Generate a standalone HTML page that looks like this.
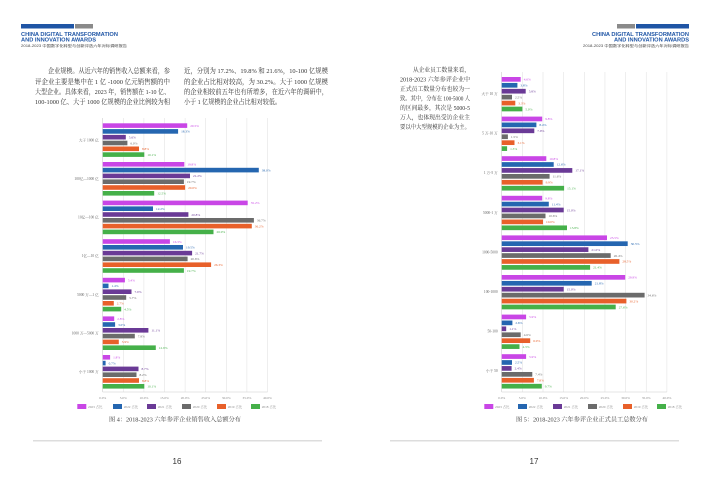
<!DOCTYPE html>
<html><head><meta charset="utf-8"><style>
html,body{margin:0;padding:0;background:#fff;}
svg{display:block}
text{font-family:"Liberation Serif","Noto Serif CJK SC",serif;}
.s{font-family:"Liberation Sans","Noto Sans CJK SC",sans-serif;}
.p{font-size:6.6px;fill:#333;}
.q{font-size:6px;fill:#333;}
.c{font-size:3.6px;fill:#666;}
.v{font-size:3.4px;}
.t{font-size:3.4px;fill:#888;}
.a{fill:#c946e6}.b{fill:#2566b0}.d{fill:#6a3a96}.e{fill:#6b6b6b}.f{fill:#e8602a}.g{fill:#45b049}
</style></head><body>
<svg width="710" height="481" viewBox="0 0 710 481" xmlns="http://www.w3.org/2000/svg">
<rect width="710" height="481" fill="#fff"/>
<!-- headers -->
<rect x="21" y="24" width="53" height="4.5" fill="#1f55a5"/><rect x="75" y="24" width="18" height="4.5" fill="#8a8a8a"/>
<text x="21" y="36" class="s" font-size="5.6" font-weight="bold" fill="#1f55a5" textLength="97" lengthAdjust="spacingAndGlyphs">CHINA DIGITAL TRANSFORMATION</text>
<text x="21" y="41.5" class="s" font-size="5.6" font-weight="bold" fill="#1f55a5" textLength="75" lengthAdjust="spacingAndGlyphs">AND INNOVATION AWARDS</text>
<text x="21" y="47" class="s" font-size="3.6" fill="#444" textLength="106" lengthAdjust="spacingAndGlyphs">2018-2023 中国数字化转型与创新评选六年对标调研报告</text>
<rect x="617" y="24" width="18" height="4.5" fill="#8a8a8a"/><rect x="636" y="24" width="53" height="4.5" fill="#1f55a5"/>
<text x="592" y="36" class="s" font-size="5.6" font-weight="bold" fill="#1f55a5" textLength="97" lengthAdjust="spacingAndGlyphs">CHINA DIGITAL TRANSFORMATION</text>
<text x="614" y="41.5" class="s" font-size="5.6" font-weight="bold" fill="#1f55a5" textLength="75" lengthAdjust="spacingAndGlyphs">AND INNOVATION AWARDS</text>
<text x="583" y="47" class="s" font-size="3.6" fill="#444" textLength="106" lengthAdjust="spacingAndGlyphs">2018-2023 中国数字化转型与创新评选六年对标调研报告</text>
<!-- left text -->
<text class="p" x="48" y="73" textLength="122" lengthAdjust="spacingAndGlyphs">企业规模。从近六年的销售收入总额来看，参</text>
<text class="p" x="35" y="84" textLength="135" lengthAdjust="spacingAndGlyphs">评企业主要是集中在 1 亿 -1000 亿元销售额的中</text>
<text class="p" x="35" y="94" textLength="135" lengthAdjust="spacingAndGlyphs">大型企业。具体来看，2023 年，销售额在 1-10 亿、</text>
<text class="p" x="35" y="104" textLength="135" lengthAdjust="spacingAndGlyphs">100-1000 亿、大于 1000 亿规模的企业比例较为相</text>
<text class="p" x="184" y="73" textLength="144" lengthAdjust="spacingAndGlyphs">近，分别为 17.2%、19.8% 和 21.6%，10-100 亿规模</text>
<text class="p" x="184" y="84" textLength="144" lengthAdjust="spacingAndGlyphs">的企业占比相对较高，为 30.2%。大于 1000 亿规模</text>
<text class="p" x="184" y="94" textLength="144" lengthAdjust="spacingAndGlyphs">的企业相较前五年也有所增多，在近六年的调研中，</text>
<text class="p" x="184" y="104" textLength="97" lengthAdjust="spacingAndGlyphs">小于 1 亿规模的企业占比相对较低。</text>
<!-- right text -->
<text class="q" x="413" y="72" textLength="57" lengthAdjust="spacingAndGlyphs">从企业员工数量来看，</text>
<text class="q" x="400" y="81.5" textLength="70" lengthAdjust="spacingAndGlyphs">2018-2023 六年参评企业中</text>
<text class="q" x="400" y="91" textLength="70" lengthAdjust="spacingAndGlyphs">正式员工数量分布也较为一</text>
<text class="q" x="400" y="100.5" textLength="70" lengthAdjust="spacingAndGlyphs">致。其中，分布在 100-5000 人</text>
<text class="q" x="400" y="110" textLength="70" lengthAdjust="spacingAndGlyphs">的区间最多，其次是 5000-5</text>
<text class="q" x="400" y="119.5" textLength="70" lengthAdjust="spacingAndGlyphs">万人，也体现出受访企业主</text>
<text class="q" x="400" y="129" textLength="70" lengthAdjust="spacingAndGlyphs">要以中大型规模的企业为主。</text>

<!-- LEFT CHART grid -->
<g stroke="#e3e3e3" stroke-width="0.6">
<line x1="102.7" y1="118" x2="102.7" y2="392" stroke="#ccc"/><line x1="123.3" y1="118" x2="123.3" y2="392"/><line x1="143.9" y1="118" x2="143.9" y2="392"/><line x1="164.5" y1="118" x2="164.5" y2="392"/><line x1="185.1" y1="118" x2="185.1" y2="392"/><line x1="205.7" y1="118" x2="205.7" y2="392"/><line x1="226.3" y1="118" x2="226.3" y2="392"/><line x1="246.9" y1="118" x2="246.9" y2="392"/><line x1="267.5" y1="118" x2="267.5" y2="392"/>
<line x1="102.7" y1="392" x2="267.5" y2="392" stroke="#ccc"/>
</g>
<g class="s">
<text class="t" x="102.7" y="399" text-anchor="middle">0.0%</text><text class="t" x="123.3" y="399" text-anchor="middle">5.0%</text><text class="t" x="143.9" y="399" text-anchor="middle">10.0%</text><text class="t" x="164.5" y="399" text-anchor="middle">15.0%</text><text class="t" x="185.1" y="399" text-anchor="middle">20.0%</text><text class="t" x="205.7" y="399" text-anchor="middle">25.0%</text><text class="t" x="226.3" y="399" text-anchor="middle">30.0%</text><text class="t" x="246.9" y="399" text-anchor="middle">35.0%</text><text class="t" x="267.5" y="399" text-anchor="middle">40.0%</text>
</g>
<!-- left groups -->
<g transform="translate(102.7,123.3)">
<text class="c" x="-4" y="18" text-anchor="end">大于 1000 亿</text>
<rect class="a" y="0" width="84.5" height="4.6"/><text class="v a" x="87.5" y="3.6">20.5%</text>
<rect class="b" y="5.8" width="75.4" height="4.6"/><text class="v b" x="78.4" y="9.4">18.3%</text>
<rect class="d" y="11.6" width="23.1" height="4.6"/><text class="v d" x="26.1" y="15.2">5.6%</text>
<rect class="e" y="17.4" width="24.7" height="4.6"/><text class="v e" x="27.7" y="21">6.0%</text>
<rect class="f" y="23.2" width="36.3" height="4.6"/><text class="v f" x="39.3" y="26.8">8.8%</text>
<rect class="g" y="29" width="41.6" height="4.6"/><text class="v g" x="44.6" y="32.6">10.1%</text>
</g>
<g transform="translate(102.7,162)">
<text class="c" x="-4" y="18" text-anchor="end">100亿—1000 亿</text>
<rect class="a" y="0" width="81.6" height="4.6"/><text class="v a" x="84.6" y="3.6">19.8%</text>
<rect class="b" y="5.8" width="156.1" height="4.6"/><text class="v b" x="159.1" y="9.4">38.0%</text>
<rect class="d" y="11.6" width="87.3" height="4.6"/><text class="v d" x="90.3" y="15.2">21.2%</text>
<rect class="e" y="17.4" width="81.2" height="4.6"/><text class="v e" x="84.2" y="21">19.7%</text>
<rect class="f" y="23.2" width="82.4" height="4.6"/><text class="v f" x="85.4" y="26.8">20.0%</text>
<rect class="g" y="29" width="51.5" height="4.6"/><text class="v g" x="54.5" y="32.6">12.5%</text>
</g>
<g transform="translate(102.7,200.6)">
<text class="c" x="-4" y="18" text-anchor="end">10亿—100 亿</text>
<rect class="a" y="0" width="145" height="4.6"/><text class="v a" x="148" y="3.6">35.2%</text>
<rect class="b" y="5.8" width="50.3" height="4.6"/><text class="v b" x="53.3" y="9.4">12.2%</text>
<rect class="d" y="11.6" width="85.7" height="4.6"/><text class="v d" x="88.7" y="15.2">20.8%</text>
<rect class="e" y="17.4" width="151.2" height="4.6"/><text class="v e" x="154.2" y="21">36.7%</text>
<rect class="f" y="23.2" width="149.1" height="4.6"/><text class="v f" x="152.1" y="26.8">36.2%</text>
<rect class="g" y="29" width="110.8" height="4.6"/><text class="v g" x="113.8" y="32.6">26.9%</text>
</g>
<g transform="translate(102.7,239.2)">
<text class="c" x="-4" y="18" text-anchor="end">1亿—10 亿</text>
<rect class="a" y="0" width="67.2" height="4.6"/><text class="v a" x="70.2" y="3.6">16.3%</text>
<rect class="b" y="5.8" width="80.3" height="4.6"/><text class="v b" x="83.3" y="9.4">19.5%</text>
<rect class="d" y="11.6" width="89.4" height="4.6"/><text class="v d" x="92.4" y="15.2">21.7%</text>
<rect class="e" y="17.4" width="84.9" height="4.6"/><text class="v e" x="87.9" y="21">20.6%</text>
<rect class="f" y="23.2" width="108.4" height="4.6"/><text class="v f" x="111.4" y="26.8">26.3%</text>
<rect class="g" y="29" width="81.2" height="4.6"/><text class="v g" x="84.2" y="32.6">19.7%</text>
</g>
<g transform="translate(102.7,277.8)">
<text class="c" x="-4" y="18" text-anchor="end">5000 万—1 亿</text>
<rect class="a" y="0" width="22.2" height="4.6"/><text class="v a" x="25.2" y="3.6">5.4%</text>
<rect class="b" y="5.8" width="5.8" height="4.6"/><text class="v b" x="8.8" y="9.4">1.4%</text>
<rect class="d" y="11.6" width="28.8" height="4.6"/><text class="v d" x="31.8" y="15.2">7.0%</text>
<rect class="e" y="17.4" width="23.5" height="4.6"/><text class="v e" x="26.5" y="21">5.7%</text>
<rect class="f" y="23.2" width="11.1" height="4.6"/><text class="v f" x="14.1" y="26.8">2.7%</text>
<rect class="g" y="29" width="18.5" height="4.6"/><text class="v g" x="21.5" y="32.6">4.5%</text>
</g>
<g transform="translate(102.7,316.4)">
<text class="c" x="-4" y="18" text-anchor="end">1000 万—5000 万</text>
<rect class="a" y="0" width="11.5" height="4.6"/><text class="v a" x="14.5" y="3.6">2.8%</text>
<rect class="b" y="5.8" width="12.4" height="4.6"/><text class="v b" x="15.4" y="9.4">3.0%</text>
<rect class="d" y="11.6" width="45.7" height="4.6"/><text class="v d" x="48.7" y="15.2">11.1%</text>
<rect class="e" y="17.4" width="32.1" height="4.6"/><text class="v e" x="35.1" y="21">7.8%</text>
<rect class="f" y="23.2" width="16.1" height="4.6"/><text class="v f" x="19.1" y="26.8">3.9%</text>
<rect class="g" y="29" width="53.1" height="4.6"/><text class="v g" x="56.1" y="32.6">12.9%</text>
</g>
<g transform="translate(102.7,355)">
<text class="c" x="-4" y="18" text-anchor="end">小于 1000 万</text>
<rect class="a" y="0" width="7.4" height="4.6"/><text class="v a" x="10.4" y="3.6">1.8%</text>
<rect class="b" y="5.8" width="2.9" height="4.6"/><text class="v b" x="5.9" y="9.4">0.7%</text>
<rect class="d" y="11.6" width="35.8" height="4.6"/><text class="v d" x="38.8" y="15.2">8.7%</text>
<rect class="e" y="17.4" width="33.8" height="4.6"/><text class="v e" x="36.8" y="21">8.2%</text>
<rect class="f" y="23.2" width="36.3" height="4.6"/><text class="v f" x="39.3" y="26.8">8.8%</text>
<rect class="g" y="29" width="41.6" height="4.6"/><text class="v g" x="44.6" y="32.6">10.1%</text>
</g>
<!-- left legend -->
<g class="s">
<rect class="a" x="77.3" y="404" width="9" height="5"/><text class="t" x="88" y="408">2023 占比</text>
<rect class="b" x="113" y="404" width="9" height="5"/><text class="t" x="123.7" y="408">2022 占比</text>
<rect class="d" x="147" y="404" width="9" height="5"/><text class="t" x="157.7" y="408">2021 占比</text>
<rect class="e" x="182" y="404" width="9" height="5"/><text class="t" x="192.7" y="408">2020 占比</text>
<rect class="f" x="217" y="404" width="9" height="5"/><text class="t" x="227.7" y="408">2019 占比</text>
<rect class="g" x="251" y="404" width="9" height="5"/><text class="t" x="261.7" y="408">2018 占比</text>
</g>
<text x="175" y="421.5" text-anchor="middle" font-size="6.2" fill="#444">图 4：2018-2023 六年参评企业销售收入总额分布</text>

<!-- RIGHT CHART grid -->
<g stroke="#e3e3e3" stroke-width="0.6">
<line x1="501.7" y1="72" x2="501.7" y2="392" stroke="#ccc"/><line x1="522.35" y1="72" x2="522.35" y2="392"/><line x1="543" y1="72" x2="543" y2="392"/><line x1="563.65" y1="72" x2="563.65" y2="392"/><line x1="584.3" y1="72" x2="584.3" y2="392"/><line x1="604.95" y1="72" x2="604.95" y2="392"/><line x1="625.6" y1="72" x2="625.6" y2="392"/><line x1="646.25" y1="72" x2="646.25" y2="392"/><line x1="666.9" y1="72" x2="666.9" y2="392"/>
<line x1="501.7" y1="392" x2="666.9" y2="392" stroke="#ccc"/>
</g>
<g class="s">
<text class="t" x="501.7" y="399" text-anchor="middle">0.0%</text><text class="t" x="522.35" y="399" text-anchor="middle">5.0%</text><text class="t" x="543" y="399" text-anchor="middle">10.0%</text><text class="t" x="563.65" y="399" text-anchor="middle">15.0%</text><text class="t" x="584.3" y="399" text-anchor="middle">20.0%</text><text class="t" x="604.95" y="399" text-anchor="middle">25.0%</text><text class="t" x="625.6" y="399" text-anchor="middle">30.0%</text><text class="t" x="646.25" y="399" text-anchor="middle">35.0%</text><text class="t" x="666.9" y="399" text-anchor="middle">40.0%</text>
</g>
<g transform="translate(501.7,77)">
<text class="c" x="-4" y="18" text-anchor="end">大于 10 万</text>
<rect class="a" y="0" width="19" height="4.7"/><text class="v a" x="22" y="3.6">4.6%</text>
<rect class="b" y="5.93" width="15.7" height="4.7"/><text class="v b" x="18.7" y="9.5">3.8%</text>
<rect class="d" y="11.86" width="24" height="4.7"/><text class="v d" x="27" y="15.5">5.8%</text>
<rect class="e" y="17.79" width="10.3" height="4.7"/><text class="v e" x="13.3" y="21.4">2.5%</text>
<rect class="f" y="23.72" width="13.6" height="4.7"/><text class="v f" x="16.6" y="27.3">3.3%</text>
<rect class="g" y="29.65" width="20.7" height="4.7"/><text class="v g" x="23.7" y="33.3">5.0%</text>
</g>
<g transform="translate(501.7,116.6)">
<text class="c" x="-4" y="18" text-anchor="end">5 万-10 万</text>
<rect class="a" y="0" width="40.5" height="4.7"/><text class="v a" x="43.5" y="3.6">9.8%</text>
<rect class="b" y="5.93" width="34.7" height="4.7"/><text class="v b" x="37.7" y="9.5">8.4%</text>
<rect class="d" y="11.86" width="32.6" height="4.7"/><text class="v d" x="35.6" y="15.5">7.9%</text>
<rect class="e" y="17.79" width="6.2" height="4.7"/><text class="v e" x="9.2" y="21.4">1.5%</text>
<rect class="f" y="23.72" width="12.8" height="4.7"/><text class="v f" x="15.8" y="27.3">3.1%</text>
<rect class="g" y="29.65" width="5.4" height="4.7"/><text class="v g" x="8.4" y="33.3">1.3%</text>
</g>
<g transform="translate(501.7,156.2)">
<text class="c" x="-4" y="18" text-anchor="end">1 万-5 万</text>
<rect class="a" y="0" width="44.6" height="4.7"/><text class="v a" x="47.6" y="3.6">10.8%</text>
<rect class="b" y="5.93" width="52" height="4.7"/><text class="v b" x="55" y="9.5">12.6%</text>
<rect class="d" y="11.86" width="70.6" height="4.7"/><text class="v d" x="73.6" y="15.5">17.1%</text>
<rect class="e" y="17.79" width="47.9" height="4.7"/><text class="v e" x="50.9" y="21.4">11.6%</text>
<rect class="f" y="23.72" width="40.9" height="4.7"/><text class="v f" x="43.9" y="27.3">9.9%</text>
<rect class="g" y="29.65" width="62.4" height="4.7"/><text class="v g" x="65.4" y="33.3">15.1%</text>
</g>
<g transform="translate(501.7,195.8)">
<text class="c" x="-4" y="18" text-anchor="end">5000-1 万</text>
<rect class="a" y="0" width="40.5" height="4.7"/><text class="v a" x="43.5" y="3.6">9.8%</text>
<rect class="b" y="5.93" width="47.1" height="4.7"/><text class="v b" x="50.1" y="9.5">11.4%</text>
<rect class="d" y="11.86" width="62" height="4.7"/><text class="v d" x="65" y="15.5">15.0%</text>
<rect class="e" y="17.79" width="43.8" height="4.7"/><text class="v e" x="46.8" y="21.4">10.6%</text>
<rect class="f" y="23.72" width="41.3" height="4.7"/><text class="v f" x="44.3" y="27.3">10.0%</text>
<rect class="g" y="29.65" width="65.3" height="4.7"/><text class="v g" x="68.3" y="33.3">15.8%</text>
</g>
<g transform="translate(501.7,235.4)">
<text class="c" x="-4" y="18" text-anchor="end">1000-5000</text>
<rect class="a" y="0" width="105.3" height="4.7"/><text class="v a" x="108.3" y="3.6">25.5%</text>
<rect class="b" y="5.93" width="126" height="4.7"/><text class="v b" x="129" y="9.5">30.5%</text>
<rect class="d" y="11.86" width="86.7" height="4.7"/><text class="v d" x="89.7" y="15.5">21.0%</text>
<rect class="e" y="17.79" width="109" height="4.7"/><text class="v e" x="112" y="21.4">26.4%</text>
<rect class="f" y="23.72" width="117.7" height="4.7"/><text class="v f" x="120.7" y="27.3">28.5%</text>
<rect class="g" y="29.65" width="88.4" height="4.7"/><text class="v g" x="91.4" y="33.3">21.4%</text>
</g>
<g transform="translate(501.7,275)">
<text class="c" x="-4" y="18" text-anchor="end">100-1000</text>
<rect class="a" y="0" width="123.5" height="4.7"/><text class="v a" x="126.5" y="3.6">29.9%</text>
<rect class="b" y="5.93" width="90" height="4.7"/><text class="v b" x="93" y="9.5">21.8%</text>
<rect class="d" y="11.86" width="62" height="4.7"/><text class="v d" x="65" y="15.5">15.0%</text>
<rect class="e" y="17.79" width="142.9" height="4.7"/><text class="v e" x="145.9" y="21.4">34.6%</text>
<rect class="f" y="23.72" width="124.7" height="4.7"/><text class="v f" x="127.7" y="27.3">30.2%</text>
<rect class="g" y="29.65" width="114" height="4.7"/><text class="v g" x="117" y="33.3">27.6%</text>
</g>
<g transform="translate(501.7,314.6)">
<text class="c" x="-4" y="18" text-anchor="end">50-100</text>
<rect class="a" y="0" width="24.4" height="4.7"/><text class="v a" x="27.4" y="3.6">5.9%</text>
<rect class="b" y="5.93" width="10.7" height="4.7"/><text class="v b" x="13.7" y="9.5">2.6%</text>
<rect class="d" y="11.86" width="4.5" height="4.7"/><text class="v d" x="7.5" y="15.5">1.1%</text>
<rect class="e" y="17.79" width="19" height="4.7"/><text class="v e" x="22" y="21.4">4.6%</text>
<rect class="f" y="23.72" width="28.5" height="4.7"/><text class="v f" x="31.5" y="27.3">6.9%</text>
<rect class="g" y="29.65" width="17.8" height="4.7"/><text class="v g" x="20.8" y="33.3">4.3%</text>
</g>
<g transform="translate(501.7,354.2)">
<text class="c" x="-4" y="18" text-anchor="end">小于 50</text>
<rect class="a" y="0" width="24.4" height="4.7"/><text class="v a" x="27.4" y="3.6">5.9%</text>
<rect class="b" y="5.93" width="10.3" height="4.7"/><text class="v b" x="13.3" y="9.5">2.5%</text>
<rect class="d" y="11.86" width="9.9" height="4.7"/><text class="v d" x="12.9" y="15.5">2.4%</text>
<rect class="e" y="17.79" width="30.6" height="4.7"/><text class="v e" x="33.6" y="21.4">7.4%</text>
<rect class="f" y="23.72" width="32.2" height="4.7"/><text class="v f" x="35.2" y="27.3">7.8%</text>
<rect class="g" y="29.65" width="40.1" height="4.7"/><text class="v g" x="43.1" y="33.3">9.7%</text>
</g>
<g class="s">
<rect class="a" x="484.3" y="404" width="9" height="5"/><text class="t" x="495" y="408">2023 占比</text>
<rect class="b" x="518" y="404" width="9" height="5"/><text class="t" x="528.7" y="408">2022 占比</text>
<rect class="d" x="553" y="404" width="9" height="5"/><text class="t" x="563.7" y="408">2021 占比</text>
<rect class="e" x="588" y="404" width="9" height="5"/><text class="t" x="598.7" y="408">2020 占比</text>
<rect class="f" x="623" y="404" width="9" height="5"/><text class="t" x="633.7" y="408">2019 占比</text>
<rect class="g" x="657" y="404" width="9" height="5"/><text class="t" x="667.7" y="408">2018 占比</text>
</g>
<text x="582" y="421.5" text-anchor="middle" font-size="6.2" fill="#444">图 5：2018-2023 六年参评企业正式员工总数分布</text>

<!-- footers -->
<rect x="33" y="440" width="289" height="1.5" fill="#ddd"/>
<rect x="390" y="440" width="289" height="1.5" fill="#ddd"/>
<text x="177" y="464" text-anchor="middle" class="s" font-size="8" fill="#333">16</text>
<text x="534" y="464" text-anchor="middle" class="s" font-size="8" fill="#333">17</text>
</svg>
</body></html>
